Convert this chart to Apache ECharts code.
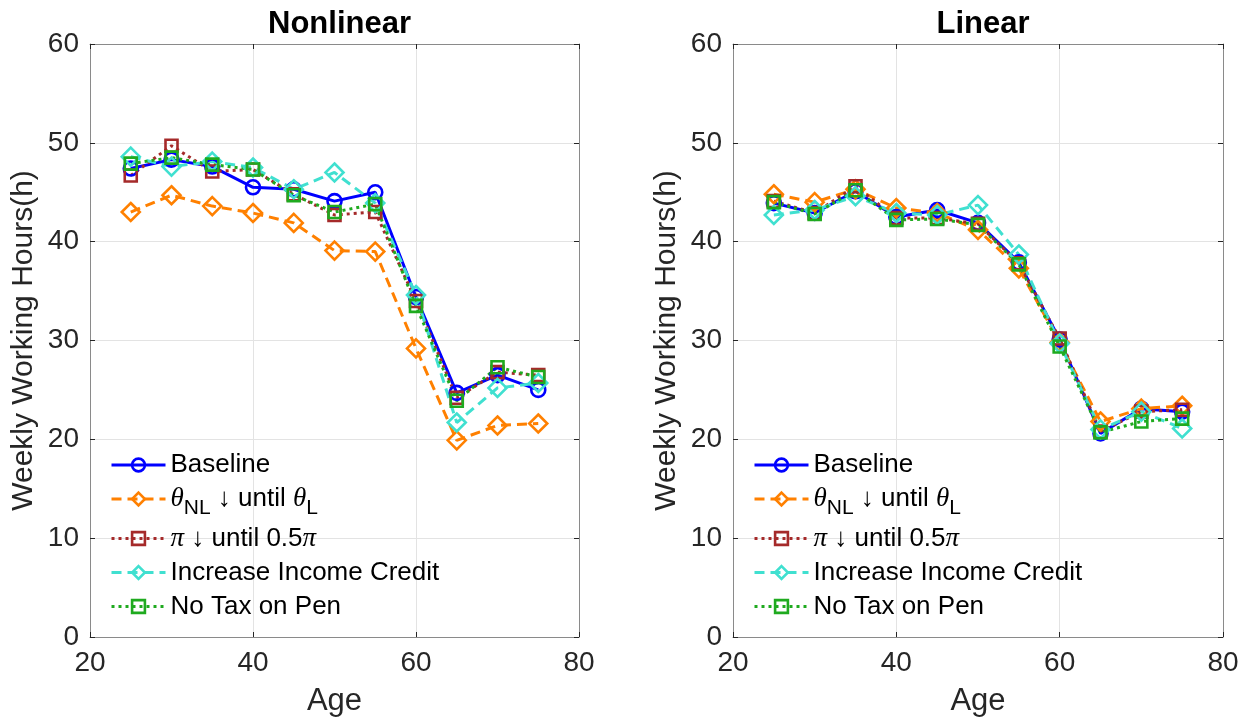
<!DOCTYPE html>
<html>
<head>
<meta charset="utf-8">
<script src="https://cdn.jsdelivr.net/npm/echarts@6/dist/echarts.min.js"></script>
<style>html,body{margin:0;padding:0;background:#fff}#c{width:1256px;height:725px}</style>
</head>
<body>
<div id="c"></div>
<script>
// ---- data ----
const ages = [25, 30, 35, 40, 45, 50, 55, 60, 65, 70, 75];
const seriesNames = ['Baseline', 'theta', 'pi', 'Increase Income Credit', 'No Tax on Pen'];
const xTicks = [20, 40, 60, 80];
const yTicks = [0, 10, 20, 30, 40, 50, 60];

// Nonlinear panel
const nlBaseline = [47.4, 48.3, 47.6, 45.5, 45.3, 44.1, 45.0, 34.4, 24.7, 26.5, 25.0];
const nlTheta    = [43.0, 44.7, 43.6, 42.9, 41.9, 39.1, 39.0, 29.2, 19.9, 21.4, 21.6];
const nlPi       = [46.7, 49.7, 47.1, 47.3, 44.8, 42.7, 43.0, 34.0, 24.2, 26.8, 26.5];
const nlCredit   = [48.6, 47.6, 48.1, 47.5, 45.3, 47.0, 43.9, 34.6, 21.7, 25.2, 25.7];
const nlNoTax    = [47.9, 48.5, 47.8, 47.3, 44.7, 43.0, 43.8, 33.5, 23.9, 27.3, 26.3];

// Linear panel
const lBaseline = [43.9, 42.9, 45.1, 42.5, 43.2, 41.9, 37.9, 30.1, 20.6, 23.1, 22.8];
const lTheta    = [44.8, 44.0, 45.3, 43.4, 42.9, 41.2, 37.3, 29.8, 21.8, 23.1, 23.4];
const lPi       = [44.1, 42.9, 45.6, 42.4, 42.4, 41.8, 37.8, 30.2, 20.8, 22.8, 23.0];
const lCredit   = [42.7, 43.2, 44.6, 42.9, 42.7, 43.7, 38.7, 29.7, 21.0, 22.8, 21.1];
const lNoTax    = [44.0, 42.8, 45.2, 42.2, 42.3, 41.7, 37.7, 29.4, 20.7, 21.8, 22.1];

// ---- styles ----
const FONT = '"Liberation Sans", Arial, Helvetica, sans-serif';
const TXT = '#262626';
const styles = {
  'Baseline': {color: '#0000ff', symbol: 'circle', size: 14, type: 'solid'},
  'theta': {color: '#ff8000', symbol: 'diamond', size: 18, type: [10, 6]},
  'pi': {color: '#a52a2a', symbol: 'rect', size: 12, type: [3, 4]},
  'Increase Income Credit': {color: '#40e0d0', symbol: 'diamond', size: 18, type: [10, 6]},
  'No Tax on Pen': {color: '#1faa1f', symbol: 'rect', size: 12, type: [3, 4]}
};
const legendLabels = {
  'Baseline': 'Baseline',
  'theta': '{it|θ}{sub|NL} ↓ until {it|θ}{sub|L}',
  'pi': '{it|π} ↓ until 0.5{it|π}',
  'Increase Income Credit': 'Increase Income Credit',
  'No Tax on Pen': 'No Tax on Pen'
};

const panels = [
  {title: 'Nonlinear', data: [nlBaseline, nlTheta, nlPi, nlCredit, nlNoTax], left: 90, width: 489},
  {title: 'Linear', data: [lBaseline, lTheta, lPi, lCredit, lNoTax], left: 733, width: 490}
];

const grids = [], xAxes = [], yAxes = [], series = [], titles = [], legends = [];
const BORDER = '#8a8a8a';

panels.forEach((p, i) => {
  grids.push({left: p.left, top: 44, width: p.width, height: 593, containLabel: false});
  titles.push({
    text: p.title, left: p.left + p.width / 2, top: 4, textAlign: 'center',
    textStyle: {fontFamily: FONT, fontWeight: 'bold', fontSize: 31, color: '#000'}
  });
  const tickStyle = {show: true, inside: true, length: 5, lineStyle: {color: TXT, width: 1}};
  xAxes.push({
    type: 'value', gridIndex: i, min: xTicks[0], max: xTicks[xTicks.length - 1], interval: 20,
    position: 'bottom',
    name: 'Age', nameLocation: 'middle', nameGap: 49,
    nameTextStyle: {fontFamily: FONT, fontSize: 31, color: TXT},
    axisLine: {show: true, onZero: false, lineStyle: {color: BORDER, width: 1}},
    axisTick: tickStyle,
    axisLabel: {fontFamily: FONT, fontSize: 28, color: TXT, margin: 12},
    splitLine: {show: true, lineStyle: {color: '#e3e3e3', width: 1}}
  });
  yAxes.push({
    type: 'value', gridIndex: i, min: yTicks[0], max: yTicks[yTicks.length - 1], interval: 10,
    position: 'left',
    name: 'Weekly Working Hours(h)', nameLocation: 'middle', nameGap: 51,
    nameTextStyle: {fontFamily: FONT, fontSize: 30, color: TXT},
    axisLine: {show: true, onZero: false, lineStyle: {color: BORDER, width: 1}},
    axisTick: tickStyle,
    axisLabel: {fontFamily: FONT, fontSize: 28, color: TXT, margin: 11},
    splitLine: {show: true, lineStyle: {color: '#e3e3e3', width: 1}}
  });
  legends.push({
    orient: 'vertical', left: p.left + 15, top: 446,
    itemWidth: 54, itemHeight: 16, itemGap: 6,
    data: seriesNames,
    formatter: name => legendLabels[name],
    lineStyle: {width: 3},
    itemStyle: {borderWidth: 2.6},
    textStyle: {
      fontFamily: FONT, fontSize: 26, color: '#000', lineHeight: 28,
      rich: {
        it: {fontFamily: '"Liberation Serif", "DejaVu Serif", serif', fontStyle: 'italic', fontSize: 27, color: '#000'},
        sub: {fontFamily: FONT, fontSize: 21, color: '#000', padding: [18, 0, 0, 0]}
      }
    }
  });
  p.data.forEach((vals, k) => {
    const name = seriesNames[k];
    const st = styles[name];
    series.push({
      name: name, type: 'line', xAxisIndex: i, yAxisIndex: i,
      data: ages.map((a, j) => [a, vals[j]]),
      symbol: st.symbol, symbolSize: st.size, showAllSymbol: true,
      lineStyle: {color: st.color, width: 3, type: st.type, cap: 'butt'},
      itemStyle: {color: 'rgba(255,255,255,0)', borderColor: st.color, borderWidth: 2.6},
      emphasis: {disabled: true},
      animation: false
    });
  });
});

// secondary axes for the box ticks (top / right)
panels.forEach((p, i) => {
  const tickStyle = {show: true, inside: true, length: 5, lineStyle: {color: TXT, width: 1}};
  xAxes.push({
    type: 'value', gridIndex: i, min: xTicks[0], max: xTicks[xTicks.length - 1], interval: 20,
    position: 'top', axisLine: {show: true, onZero: false, lineStyle: {color: BORDER, width: 1}},
    axisTick: tickStyle, axisLabel: {show: false}, splitLine: {show: false}
  });
  yAxes.push({
    type: 'value', gridIndex: i, min: yTicks[0], max: yTicks[yTicks.length - 1], interval: 10,
    position: 'right', axisLine: {show: true, onZero: false, lineStyle: {color: BORDER, width: 1}},
    axisTick: tickStyle, axisLabel: {show: false}, splitLine: {show: false}
  });
});

const chart = echarts.init(document.getElementById('c'), null, {renderer: 'canvas'});
chart.setOption({
  animation: false,
  backgroundColor: '#fff',
  title: titles,
  legend: legends,
  grid: grids,
  xAxis: xAxes,
  yAxis: yAxes,
  series: series
});
</script>
</body>
</html>
